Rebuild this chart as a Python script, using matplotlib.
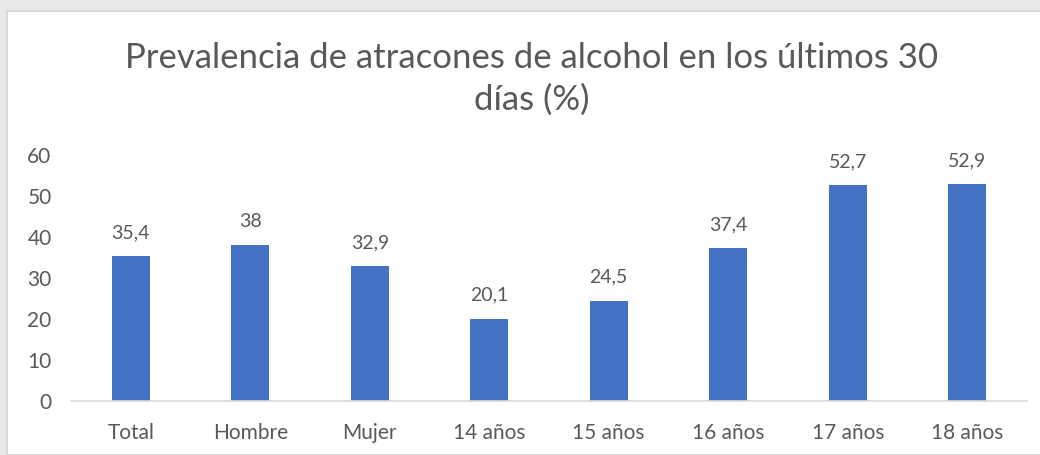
import matplotlib.pyplot as plt
from matplotlib.patches import Rectangle

categories = ['Total', 'Hombre', 'Mujer', '14 años', '15 años', '16 años', '17 años', '18 años']
values = [35.4, 38, 32.9, 20.1, 24.5, 37.4, 52.7, 52.9]
labels = ['35,4', '38', '32,9', '20,1', '24,5', '37,4', '52,7', '52,9']

plt.rcParams['font.family'] = ['Lato', 'DejaVu Sans']
txt = '#595959'

fig = plt.figure(figsize=(10.4, 4.55), dpi=100)
fig.patch.set_facecolor('#e8e8e8')
fig.patches.append(Rectangle((7/1040, 0), 1.0, 1 - 11/455, transform=fig.transFigure,
                             facecolor='white', edgecolor='#d9d9d9', linewidth=1.5, zorder=-5))

ax = fig.add_axes([71/1040, 1 - 401/455, (1027 - 71)/1040, (401 - 155)/455])
ax.set_facecolor('none')
x = range(len(categories))
ax.bar(x, values, width=0.32, color='#4472c4', zorder=2)
for xi, v, l in zip(x, values, labels):
    ax.text(xi, v + 3.6, l, ha='center', va='bottom', fontsize=14, color=txt)

ax.set_xlim(-0.5, len(categories) - 0.5)
ax.set_ylim(0, 60)
ax.set_yticks(range(0, 61, 10))
ax.set_xticks(list(x))
ax.set_xticklabels(categories)
ax.tick_params(axis='both', length=0, labelsize=15, colors=txt)
ax.tick_params(axis='y', pad=14)
ax.tick_params(axis='x', pad=16)
for s in ['top', 'right', 'left']:
    ax.spines[s].set_visible(False)
ax.spines['bottom'].set_color('#d9d9d9')
ax.spines['bottom'].set_linewidth(1.2)

fig.text(532/1040, 1 - 58/455, 'Prevalencia de atracones de alcohol en los últimos 30',
         ha='center', va='center', fontsize=25, color=txt)
fig.text(532/1040, 1 - 100/455, 'días (%)', ha='center', va='center', fontsize=25, color=txt)

fig.savefig('out.png', dpi=100, facecolor=fig.get_facecolor())
